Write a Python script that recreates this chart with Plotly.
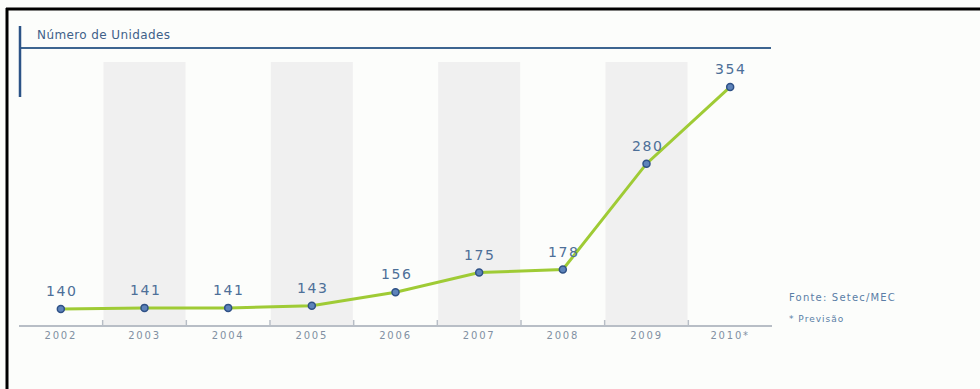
import plotly.graph_objects as go

years = ["2002", "2003", "2004", "2005", "2006", "2007", "2008", "2009", "2010*"]
units = [140, 141, 141, 143, 156, 175, 178, 280, 354]
title_text = "Número de Unidades"
source_text = "Fonte: Setec/MEC"
note_text = "* Previsão"

W, H = 980, 389
ML, MR, MT, MB = 19, 208, 62, 64
PW, PH = W - ML - MR, H - MT - MB

def px(x):
    return (x - ML) / PW

def py(y):
    return (H - MB - y) / PH

def spaced(t, ls):
    return f'<span style="letter-spacing:{ls}px">{t}</span>'

xs = list(range(len(years)))

fig = go.Figure()
fig.add_trace(go.Scatter(
    x=xs, y=units, mode="lines+markers",
    line=dict(color="#9fcb35", width=3),
    marker=dict(size=7, color="#5d83ba", line=dict(color="#2f5186", width=1.5)),
    hoverinfo="skip", showlegend=False,
))

shapes = []
for i in xs:
    if i % 2 == 1:
        shapes.append(dict(type="rect", xref="x", yref="paper", x0=i - 0.49, x1=i + 0.49,
                           y0=0, y1=1, fillcolor="#f0f0f0", line=dict(width=0), layer="below"))
# header rule and vertical bar
shapes.append(dict(type="line", xref="paper", yref="paper", x0=px(20), x1=px(771),
                   y0=py(48), y1=py(48), line=dict(color="#3d6590", width=2)))
shapes.append(dict(type="line", xref="paper", yref="paper", x0=px(20), x1=px(20),
                   y0=py(26), y1=py(97), line=dict(color="#2b5386", width=2.5)))
# black frame (top and left)
shapes.append(dict(type="line", xref="paper", yref="paper", x0=px(6), x1=px(980),
                   y0=py(9), y1=py(9), line=dict(color="#000000", width=3)))
shapes.append(dict(type="line", xref="paper", yref="paper", x0=px(7), x1=px(7),
                   y0=py(8), y1=py(389), line=dict(color="#000000", width=3)))
# tick marks at category boundaries
for i in range(1, len(years)):
    shapes.append(dict(type="line", xref="x", yref="paper", x0=i - 0.5, x1=i - 0.5,
                       y0=0, y1=py(320), line=dict(color="#b8bec6", width=1.5)))

annotations = []
for i, v in zip(xs, units):
    annotations.append(dict(x=i, y=v, xref="x", yref="y", text=spaced(str(v), 1.6), showarrow=False,
                            yshift=18, xshift=1,
                            font=dict(family="DejaVu Sans", size=14, color="#4d6f98")))
annotations.append(dict(x=px(35), y=py(35), xref="paper", yref="paper", text=spaced(title_text, 0.4),
                        showarrow=False, xanchor="left", yanchor="middle",
                        font=dict(family="DejaVu Sans", size=12, color="#3f6189")))
annotations.append(dict(x=px(787), y=py(297), xref="paper", yref="paper", text=spaced(source_text, 1.2),
                        showarrow=False, xanchor="left", yanchor="middle",
                        font=dict(family="DejaVu Sans", size=10, color="#5a7da6")))
annotations.append(dict(x=px(787), y=py(319), xref="paper", yref="paper", text=spaced(note_text, 1),
                        showarrow=False, xanchor="left", yanchor="middle",
                        font=dict(family="DejaVu Sans", size=9, color="#5a7da6")))

fig.update_layout(
    width=W, height=H,
    margin=dict(l=ML, r=MR, t=MT, b=MB, pad=0),
    paper_bgcolor="#fcfdfb", plot_bgcolor="rgba(0,0,0,0)",
    shapes=shapes, annotations=annotations,
    xaxis=dict(range=[-0.5, len(years) - 0.5], tickmode="array", tickvals=xs,
               ticktext=[spaced(y, 1.8) for y in years],
               showgrid=False, zeroline=False, showline=True, linecolor="#b8bec6", linewidth=1.5,
               ticks="", tickfont=dict(family="DejaVu Sans", size=10, color="#8190a2")),
    yaxis=dict(range=[124.5, 378], visible=False, showgrid=False, zeroline=False),
)

fig.write_html("out.html")
